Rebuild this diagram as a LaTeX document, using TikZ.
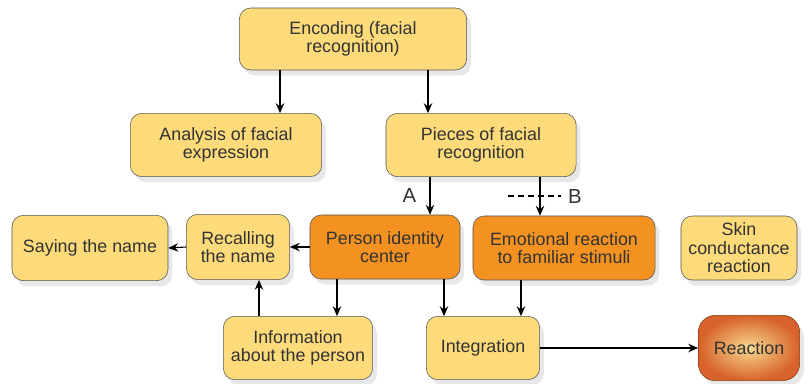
\documentclass[tikz,border=0pt]{standalone}
\usepackage{fontspec}
\setmainfont{Liberation Sans}
\usetikzlibrary{shadows,calc,arrows.meta}

\definecolor{boxyellow}{HTML}{FDDA7A}
\definecolor{boxorange}{HTML}{F39221}
\definecolor{boxedge}{HTML}{555555}
\definecolor{txtgrey}{HTML}{333333}
\definecolor{reactin}{HTML}{F8D88E}
\definecolor{reactout}{HTML}{D7622A}

\begin{document}
\begin{tikzpicture}[x=0.025cm, y=-0.025cm,
  font=\fontsize{12.7}{13.2}\selectfont,
  box/.style={draw=boxedge, fill=boxyellow, rounded corners=8pt, align=center,
    text=txtgrey, inner sep=2pt,
    drop shadow={shadow xshift=3pt, shadow yshift=-4pt, opacity=0.18}},
  hotbox/.style={box, fill=boxorange},
  arr/.style={-{Stealth[length=7pt,width=6pt]}, line width=0.8pt},
  letter/.style={font=\fontsize{14.5}{16}\selectfont, text=txtgrey}]
  % fix the page size
  \useasboundingbox (0,0) rectangle (809,383);

  % boxes
  \node[box, minimum width=5.68cm, minimum height=1.55cm] (enc) at (353,39) {Encoding (facial\\recognition)};
  \node[box, minimum width=4.78cm, minimum height=1.58cm] (ana) at (226,145) {Analysis of facial\\expression};
  \node[box, minimum width=4.75cm, minimum height=1.58cm] (pie) at (481,145) {Pieces of facial\\recognition};
  \node[box, minimum width=3.9cm, minimum height=1.63cm] (say) at (90,248) {Saying the name};
  \node[box, minimum width=2.58cm, minimum height=1.63cm] (rec) at (238,247) {Recalling\\the name};
  \node[hotbox, minimum width=3.75cm, minimum height=1.6cm] (per) at (385,247) {Person identity\\center};
  \node[hotbox, minimum width=4.55cm, minimum height=1.6cm] (emo) at (564,248) {Emotional reaction\\to familiar stimuli};
  \node[box, minimum width=2.9cm, minimum height=1.6cm] (ski) at (739,248) {Skin\\conductance\\reaction};
  \node[box, minimum width=3.73cm, minimum height=1.58cm] (inf) at (298,348) {Information\\about the person};
  \node[box, minimum width=2.83cm, minimum height=1.58cm] (int) at (483,348) {Integration};
  \node[box, draw=reactout!60!black, rounded corners=12pt, shade, inner color=reactin, outer color=reactout,
    minimum width=2.53cm, minimum height=1.63cm] (rea) at (749,348) {Reaction};

  % connectors
  \path ($(enc.south)+(-73,0)$) coordinate (e1)
        ($(enc.south)+(75,0)$) coordinate (e2)
        ($(pie.south)+(-51,0)$) coordinate (p1)
        ($(pie.south)+(59,0)$) coordinate (p2)
        ($(inf.north)+(-39,0)$) coordinate (i1)
        ($(per.south)+(-48,0)$) coordinate (c1)
        ($(per.south)+(59,0)$) coordinate (c2)
        ($(emo.south)+(-43,0)$) coordinate (m1);
  \draw[arr] (e1) -- (e1 |- ana.north);
  \draw[arr] (e2) -- (e2 |- pie.north);
  \draw[arr] (p1) -- node[letter, left=6pt] (la) {A} (p1 |- per.north);
  \draw[arr] (p2) -- (p2 |- emo.north);
  \draw[line width=1.6pt, dash pattern=on 4.5pt off 2.6pt] ($(p2)!0.5!(p2 |- emo.north)+(-32,0)$) coordinate (d1)
    -- ++(53,0) node[letter, right=1pt] (lb) {B};
  \draw[arr] (per.west) -- (rec.east);
  \draw[arr] (rec.west) -- (say.east);
  \draw[arr] (i1) -- (i1 |- rec.south);
  \draw[arr] (c1) -- (c1 |- inf.north);
  \draw[arr] (c2) -- (c2 |- int.north);
  \draw[arr] (m1) -- (m1 |- int.north);
  \draw[arr] (int.east) -- (rea.west);
\end{tikzpicture}
\end{document}
